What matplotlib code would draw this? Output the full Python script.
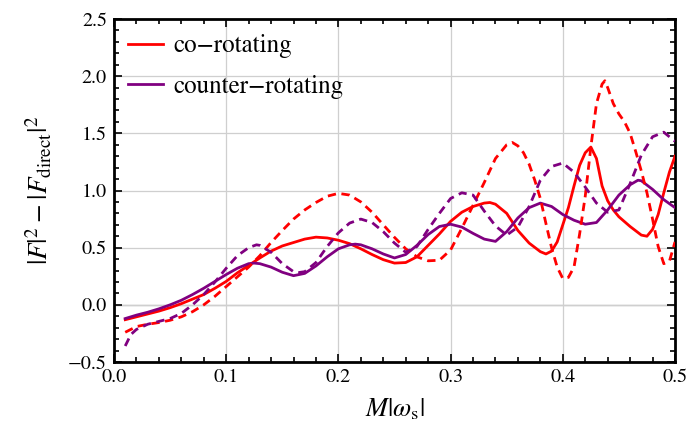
import matplotlib
matplotlib.use("Agg")
import matplotlib.pyplot as plt
from matplotlib.ticker import MultipleLocator

plt.rcParams['font.family'] = ['STIXGeneral', 'DejaVu Serif']
plt.rcParams['mathtext.fontset'] = 'stix'

# co-rotating, solid
co_solid_x = [0.01,0.02,0.03,0.04,0.05,0.06,0.07,0.08,0.09,0.10,0.11,0.12,0.13,0.14,0.15,0.16,0.17,0.18,0.19,0.20,
              0.21,0.22,0.23,0.24,0.25,0.26,0.27,0.28,0.29,0.30,0.31,0.32,0.33,0.335,0.34,0.35,0.36,0.37,0.38,0.385,
              0.39,0.395,0.40,0.405,0.41,0.415,0.42,0.425,0.43,0.435,0.44,0.445,0.45,0.46,0.47,0.475,0.48,0.485,0.49,0.495,0.50]
co_solid_y = [-0.13,-0.105,-0.08,-0.055,-0.025,0.01,0.05,0.09,0.145,0.205,0.28,0.345,0.41,0.47,0.515,0.545,0.575,0.592,0.585,0.565,
              0.535,0.49,0.44,0.395,0.365,0.37,0.42,0.52,0.62,0.73,0.81,0.86,0.89,0.895,0.88,0.80,0.65,0.54,0.465,0.445,
              0.47,0.55,0.70,0.85,1.04,1.22,1.33,1.38,1.28,1.04,0.91,0.83,0.77,0.685,0.61,0.60,0.66,0.79,0.98,1.16,1.30]

# co-rotating, dashed
co_dash_x = [0.01,0.02,0.03,0.04,0.05,0.06,0.07,0.08,0.09,0.10,0.11,0.12,0.13,0.14,0.15,0.16,0.17,0.18,0.19,0.20,
             0.21,0.22,0.23,0.24,0.25,0.26,0.27,0.28,0.29,0.30,0.31,0.32,0.33,0.34,0.35,0.355,0.36,0.365,0.37,0.375,
             0.38,0.385,0.39,0.395,0.40,0.405,0.41,0.415,0.42,0.425,0.43,0.435,0.4375,0.44,0.445,0.45,0.455,0.46,0.465,0.47,
             0.475,0.48,0.485,0.49,0.495,0.50]
co_dash_y = [-0.24,-0.19,-0.17,-0.155,-0.135,-0.105,-0.06,0.0,0.075,0.16,0.245,0.33,0.43,0.545,0.65,0.75,0.83,0.895,0.95,0.975,
             0.96,0.90,0.81,0.70,0.59,0.49,0.42,0.385,0.39,0.48,0.67,0.87,1.07,1.28,1.40,1.42,1.39,1.33,1.23,1.09,
             0.93,0.71,0.50,0.33,0.23,0.24,0.33,0.62,0.95,1.38,1.76,1.93,1.96,1.90,1.76,1.67,1.60,1.50,1.34,1.17,
             0.98,0.75,0.51,0.36,0.38,0.55]

# counter-rotating, solid
ctr_solid_x = [0.01,0.02,0.03,0.04,0.05,0.06,0.07,0.08,0.09,0.10,0.11,0.12,0.125,0.13,0.14,0.15,0.16,0.17,0.18,0.19,
               0.20,0.21,0.215,0.22,0.23,0.24,0.25,0.26,0.27,0.28,0.29,0.30,0.31,0.32,0.33,0.34,0.35,0.36,0.37,0.38,
               0.39,0.40,0.41,0.42,0.43,0.44,0.45,0.46,0.467,0.47,0.48,0.49,0.50]
ctr_solid_y = [-0.12,-0.09,-0.065,-0.035,0.0,0.04,0.09,0.145,0.205,0.265,0.32,0.36,0.365,0.36,0.33,0.285,0.255,0.275,0.34,0.42,
               0.49,0.525,0.531,0.525,0.49,0.445,0.41,0.44,0.52,0.615,0.685,0.705,0.68,0.625,0.575,0.555,0.64,0.76,0.85,0.89,
               0.86,0.79,0.74,0.705,0.72,0.83,0.96,1.05,1.09,1.085,1.01,0.92,0.85]

# counter-rotating, dashed
ctr_dash_x = [0.01,0.015,0.02,0.03,0.04,0.05,0.06,0.07,0.08,0.09,0.10,0.11,0.12,0.127,0.13,0.14,0.15,0.16,0.165,0.17,
              0.18,0.19,0.20,0.21,0.22,0.23,0.24,0.25,0.26,0.27,0.28,0.29,0.30,0.31,0.32,0.33,0.34,0.35,0.36,0.37,
              0.38,0.39,0.40,0.41,0.42,0.43,0.44,0.45,0.46,0.47,0.48,0.49,0.50]
ctr_dash_y = [-0.36,-0.26,-0.215,-0.17,-0.145,-0.12,-0.075,0.0,0.09,0.20,0.32,0.43,0.50,0.525,0.52,0.46,0.36,0.29,0.283,0.29,
              0.37,0.51,0.63,0.715,0.75,0.72,0.64,0.54,0.46,0.51,0.66,0.80,0.93,0.98,0.96,0.82,0.69,0.61,0.68,0.86,
              1.09,1.21,1.24,1.16,1.03,0.89,0.81,0.83,1.06,1.31,1.47,1.51,1.43]

labels = ['co\u2212rotating', 'counter\u2212rotating']
red = '#FF0000'
purple = '#800080'

fig = plt.figure(figsize=(6.88, 4.37), dpi=100)
ax = fig.add_axes([114/688, 1-362/437, (675-114)/688, (362-19)/437])

ax.grid(True, which='major', color='#cfcfcf', lw=0.9, zorder=0)
ax.axhline(0, color='black', lw=0.8, zorder=1)

lw = 2.0
dash = (0, (3.0, 2.0))
ax.plot(co_solid_x, co_solid_y, color=red, lw=lw, label=labels[0], zorder=3)
ax.plot(ctr_solid_x, ctr_solid_y, color=purple, lw=lw, label=labels[1], zorder=3)
ax.plot(co_dash_x, co_dash_y, color=red, lw=lw, ls=dash, zorder=3)
ax.plot(ctr_dash_x, ctr_dash_y, color=purple, lw=lw, ls=dash, zorder=3)

ax.set_xlim(0, 0.5)
ax.set_ylim(-0.5, 2.5)
ax.xaxis.set_major_locator(MultipleLocator(0.1))
ax.xaxis.set_minor_locator(MultipleLocator(0.02))
ax.yaxis.set_major_locator(MultipleLocator(0.5))
ax.yaxis.set_minor_locator(MultipleLocator(0.1))
ax.xaxis.set_major_formatter(plt.FuncFormatter(lambda v, p: f"{v:.1f}".replace('-', '\u2212')))
ax.yaxis.set_major_formatter(plt.FuncFormatter(lambda v, p: f"{v:.1f}".replace('-', '\u2212')))

ax.tick_params(which='both', direction='in', top=True, right=True, labelsize=14.5, width=1.2)
ax.tick_params(which='major', length=6, pad=5)
ax.tick_params(which='minor', length=3.5)
for s in ax.spines.values():
    s.set_linewidth(2.0)

ax.set_xlabel(r'$M|\omega_{\mathrm{s}}|$', fontsize=19, labelpad=8)
ax.set_ylabel(r'$|F|^2\:-\:|F_{\mathrm{direct}}|^2$', fontsize=19.5, labelpad=10)

leg = ax.legend(loc='upper left', bbox_to_anchor=(0.025, 0.955), frameon=False, fontsize=18,
                handlelength=1.4, handletextpad=0.4, labelspacing=0.65, borderaxespad=0, borderpad=0)

fig.savefig('out.png', dpi=100)
